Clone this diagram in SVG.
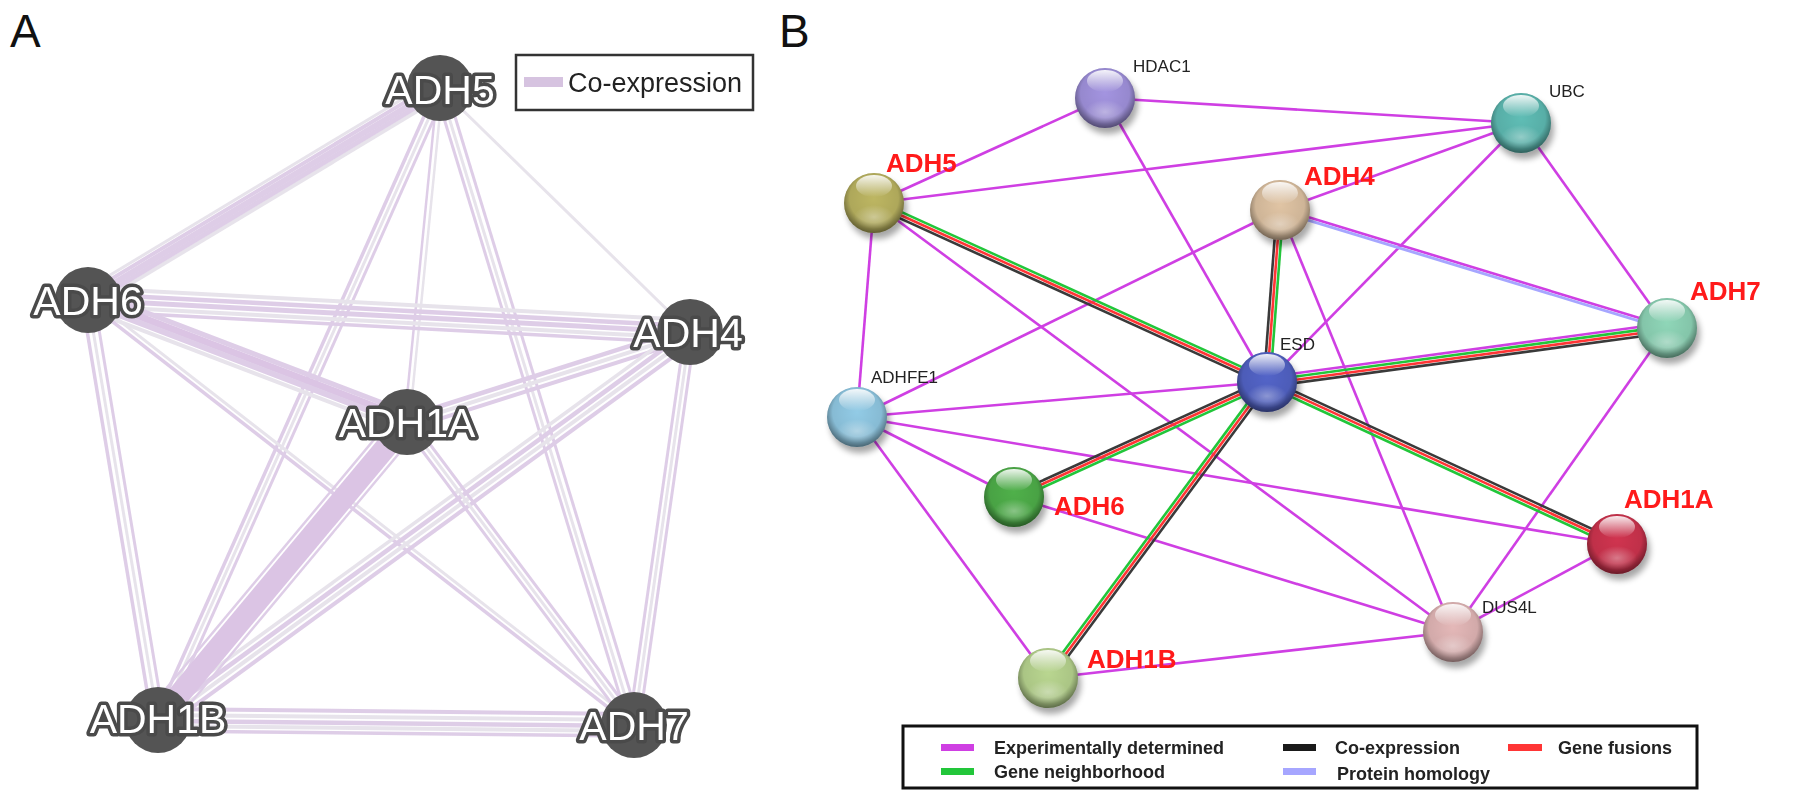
<svg xmlns="http://www.w3.org/2000/svg" width="1795" height="802" viewBox="0 0 1795 802">
<style>
.p{stroke:#d6c1e1;fill:none}
.g{stroke:#e1dce6;fill:none}
.d{stroke:#d2b6de;fill:none}
.an{fill:#545454}
.al{font-family:"Liberation Sans",Arial,sans-serif;font-size:41px;fill:#fff;stroke:#4a4a4a;stroke-width:7px;paint-order:stroke;stroke-linejoin:round;text-anchor:middle}
.pl{font-family:"Liberation Sans",Arial,sans-serif;font-size:46px;fill:#111}
.m{stroke:#cf3fe3;stroke-width:2.6;fill:none}
.cg{stroke:#22c63a;stroke-width:2.6;fill:none}
.cr{stroke:#ff3535;stroke-width:2.6;fill:none}
.ck{stroke:#3a3a3a;stroke-width:2.6;fill:none}
.cb{stroke:#a6a6ff;stroke-width:2.8;fill:none}
.rl{font-family:"Liberation Sans",Arial,sans-serif;font-size:26px;font-weight:bold;fill:#ff1a1a}
.sl{font-family:"Liberation Sans",Arial,sans-serif;font-size:17px;fill:#222}
.lg{font-family:"Liberation Sans",Arial,sans-serif;font-size:18px;font-weight:bold;fill:#222}
</style>
<defs>
<radialGradient id="shade" cx="0.5" cy="0.42" r="0.58">
<stop offset="0" stop-color="#000" stop-opacity="0"/>
<stop offset="0.7" stop-color="#000" stop-opacity="0.08"/>
<stop offset="1" stop-color="#000" stop-opacity="0.5"/>
</radialGradient>
<linearGradient id="hl" x1="0" y1="0" x2="0" y2="1">
<stop offset="0" stop-color="#fff" stop-opacity="0.9"/>
<stop offset="1" stop-color="#fff" stop-opacity="0"/>
</linearGradient>
<radialGradient id="glow" cx="0.5" cy="0.5" r="0.5">
<stop offset="0" stop-color="#fff" stop-opacity="0.35"/>
<stop offset="1" stop-color="#fff" stop-opacity="0"/>
</radialGradient>
<filter id="blur" x="-50%" y="-50%" width="200%" height="200%"><feGaussianBlur stdDeviation="3"/></filter>
</defs>
<rect width="1795" height="802" fill="#fff"/>

<text class="pl" x="10" y="47">A</text>
<text class="pl" x="779" y="47">B</text>

<!-- Panel A connectors -->
<g id="a-edges" opacity="0.8">
<g transform="translate(440,88) rotate(148.94)">
<line x2="410.9" y1="-8" y2="-8" class="g" stroke-width="4"/>
<line x2="410.9" y1="-4" y2="-4" class="p" stroke-width="5"/>
<line x2="410.9" y1="1" y2="1" class="p" stroke-width="6"/>
<line x2="410.9" y1="6" y2="6" class="p" stroke-width="4"/>
<line x2="410.9" y1="10" y2="10" class="g" stroke-width="3"/>
</g>
<g transform="translate(440,88) rotate(44.3)">
<line x2="349.3" class="g" stroke-width="3"/>
</g>
<g transform="translate(440,88) rotate(95.64)">
<line x2="335.6" y1="-2.5" y2="-2.5" class="g" stroke-width="2.5"/>
<line x2="335.6" y1="2.5" y2="2.5" class="p" stroke-width="2.5"/>
</g>
<g transform="translate(440,88) rotate(114.05)">
<line x2="692.1" y1="-7" y2="-7" class="p" stroke-width="3"/>
<line x2="692.1" y1="-2" y2="-2" class="g" stroke-width="3"/>
<line x2="692.1" y1="3" y2="3" class="p" stroke-width="3.5"/>
</g>
<g transform="translate(440,88) rotate(73.06)">
<line x2="665.9" y1="-6" y2="-6" class="p" stroke-width="3"/>
<line x2="665.9" y1="0" y2="0" class="g" stroke-width="3"/>
<line x2="665.9" y1="5" y2="5" class="p" stroke-width="3"/>
</g>
<g transform="translate(88,300) rotate(3.04)">
<line x2="602.8" y1="-12" y2="-12" class="g" stroke-width="4"/>
<line x2="602.8" y1="-6" y2="-6" class="p" stroke-width="4.5"/>
<line x2="602.8" y1="0" y2="0" class="p" stroke-width="5"/>
<line x2="602.8" y1="6" y2="6" class="g" stroke-width="4"/>
<line x2="602.8" y1="11" y2="11" class="p" stroke-width="3.5"/>
</g>
<g transform="translate(88,300) rotate(20.93)">
<line x2="341.5" y1="-9" y2="-9" class="p" stroke-width="5"/>
<line x2="341.5" y1="-3" y2="-3" class="d" stroke-width="7"/>
<line x2="341.5" y1="3" y2="3" class="p" stroke-width="6"/>
<line x2="341.5" y1="9" y2="9" class="g" stroke-width="4"/>
</g>
<g transform="translate(88,300) rotate(80.54)">
<line x2="425.8" y1="-6" y2="-6" class="p" stroke-width="3"/>
<line x2="425.8" y1="0" y2="0" class="g" stroke-width="3"/>
<line x2="425.8" y1="6" y2="6" class="p" stroke-width="3.5"/>
</g>
<g transform="translate(88,300) rotate(37.90)">
<line x2="691.9" y1="-3" y2="-3" class="g" stroke-width="3"/>
<line x2="691.9" y1="2" y2="2" class="p" stroke-width="3.5"/>
</g>
<g transform="translate(690,332) rotate(162.36)">
<line x2="297" y1="-7" y2="-7" class="p" stroke-width="4"/>
<line x2="297" y1="-1" y2="-1" class="g" stroke-width="4"/>
<line x2="297" y1="5" y2="5" class="p" stroke-width="4.5"/>
</g>
<g transform="translate(690,332) rotate(143.90)">
<line x2="658.5" y1="-10" y2="-10" class="p" stroke-width="4"/>
<line x2="658.5" y1="-4" y2="-4" class="g" stroke-width="4"/>
<line x2="658.5" y1="2" y2="2" class="p" stroke-width="4.5"/>
<line x2="658.5" y1="8" y2="8" class="g" stroke-width="3.5"/>
</g>
<g transform="translate(690,332) rotate(98.11)">
<line x2="397" y1="-5" y2="-5" class="p" stroke-width="3"/>
<line x2="397" y1="0" y2="0" class="g" stroke-width="3"/>
<line x2="397" y1="5" y2="5" class="p" stroke-width="3"/>
</g>
<g transform="translate(407,422) rotate(129.88)">
<line x2="388.3" y1="-14" y2="-14" class="p" stroke-width="2.5"/>
<line x2="388.3" y1="0" y2="0" class="d" stroke-width="22"/>
<line x2="388.3" y1="14" y2="14" class="p" stroke-width="2.5"/>
</g>
<g transform="translate(407,422) rotate(53.16)">
<line x2="378.6" y1="-5" y2="-5" class="p" stroke-width="3"/>
<line x2="378.6" y1="0" y2="0" class="g" stroke-width="3"/>
<line x2="378.6" y1="5" y2="5" class="p" stroke-width="3"/>
</g>
<g transform="translate(158,720) rotate(0.60)">
<line x2="476" y1="-11" y2="-11" class="p" stroke-width="4"/>
<line x2="476" y1="-5" y2="-5" class="g" stroke-width="4"/>
<line x2="476" y1="1" y2="1" class="p" stroke-width="4.5"/>
<line x2="476" y1="6" y2="6" class="g" stroke-width="4"/>
<line x2="476" y1="11" y2="11" class="p" stroke-width="3.5"/>
</g>
</g>

<!-- Panel A nodes -->
<g id="a-adh5"><circle cx="440" cy="88" r="33" class="an"/><text class="al" x="440" y="104">ADH5</text></g>
<g id="a-adh6"><circle cx="88" cy="300" r="33" class="an"/><text class="al" x="88" y="315">ADH6</text></g>
<g id="a-adh4"><circle cx="690" cy="332" r="33" class="an"/><text class="al" x="688" y="347">ADH4</text></g>
<g id="a-adh1a"><circle cx="407" cy="422" r="33" class="an"/><text class="al" x="407" y="437">ADH1A</text></g>
<g id="a-adh1b"><circle cx="158" cy="720" r="33" class="an"/><text class="al" x="158" y="733">ADH1B</text></g>
<g id="a-adh7"><circle cx="634" cy="725" r="33" class="an"/><text class="al" x="634" y="740">ADH7</text></g>

<!-- Panel A legend -->
<g id="a-legend">
<rect x="516" y="55" width="237" height="55" fill="#fff" stroke="#333" stroke-width="2.5"/>
<rect x="524" y="77" width="39" height="10" fill="#d6c3e0"/>
<text x="568" y="92" font-family="Liberation Sans, Arial, sans-serif" font-size="27" fill="#222">Co-expression</text>
</g>

<!-- Panel B connectors -->
<g id="b-edges">
<line class="m" x1="1105" y1="98" x2="874" y2="203"/>
<line class="m" x1="1105" y1="98" x2="1521" y2="123"/>
<line class="m" x1="1105" y1="98" x2="1267" y2="382"/>
<line class="m" x1="1521" y1="123" x2="874" y2="203"/>
<line class="m" x1="1521" y1="123" x2="1280" y2="210"/>
<line class="m" x1="1521" y1="123" x2="1267" y2="382"/>
<line class="m" x1="1521" y1="123" x2="1667" y2="328"/>
<line class="m" x1="874" y1="203" x2="857" y2="417"/>
<line class="m" x1="874" y1="203" x2="1453" y2="632"/>
<line class="m" x1="1280" y1="210" x2="857" y2="417"/>
<line class="m" x1="1280" y1="210" x2="1453" y2="632"/>
<line class="m" x1="1267" y1="382" x2="857" y2="417"/>
<line class="m" x1="857" y1="417" x2="1014" y2="497"/>
<line class="m" x1="857" y1="417" x2="1048" y2="678"/>
<line class="m" x1="857" y1="417" x2="1617" y2="544"/>
<line class="m" x1="1014" y1="497" x2="1453" y2="632"/>
<line class="m" x1="1048" y1="678" x2="1453" y2="632"/>
<line class="m" x1="1453" y1="632" x2="1617" y2="544"/>
<line class="m" x1="1453" y1="632" x2="1667" y2="328"/>
<g transform="translate(874,203) rotate(24.49)">
<line x2="431.8" y1="-3.2" y2="-3.2" class="cg"/>
<line x2="431.8" y1="0" y2="0" class="cr"/>
<line x2="431.8" y1="3.2" y2="3.2" class="ck"/>
</g>
<g transform="translate(1280,210) rotate(94.32)">
<line x2="172.5" y1="-3.2" y2="-3.2" class="cg"/>
<line x2="172.5" y1="0" y2="0" class="cr"/>
<line x2="172.5" y1="3.2" y2="3.2" class="ck"/>
</g>
<g transform="translate(1267,382) rotate(-7.69)">
<line x2="403.6" y1="-4.8" y2="-4.8" class="m"/>
<line x2="403.6" y1="-1.6" y2="-1.6" class="cg"/>
<line x2="403.6" y1="1.6" y2="1.6" class="cr"/>
<line x2="403.6" y1="4.8" y2="4.8" class="ck"/>
</g>
<g transform="translate(1014,497) rotate(-24.44)">
<line x2="277.9" y1="-3.2" y2="-3.2" class="ck"/>
<line x2="277.9" y1="0" y2="0" class="cr"/>
<line x2="277.9" y1="3.2" y2="3.2" class="cg"/>
</g>
<g transform="translate(1048,678) rotate(-53.50)">
<line x2="368.2" y1="-3.2" y2="-3.2" class="cg"/>
<line x2="368.2" y1="0" y2="0" class="cr"/>
<line x2="368.2" y1="3.2" y2="3.2" class="ck"/>
</g>
<g transform="translate(1267,382) rotate(24.84)">
<line x2="385.7" y1="-3.2" y2="-3.2" class="ck"/>
<line x2="385.7" y1="0" y2="0" class="cr"/>
<line x2="385.7" y1="3.2" y2="3.2" class="cg"/>
</g>
<g transform="translate(1280,210) rotate(16.96)">
<line x2="404.6" y1="-1.5" y2="-1.5" class="m"/>
<line x2="404.6" y1="1.5" y2="1.5" class="cb"/>
</g>
</g>

<!-- Panel B nodes -->
<g id="b-hdac1">
<circle cx="1108" cy="104" r="30" fill="#000" opacity="0.35" filter="url(#blur)"/>
<circle cx="1105" cy="98" r="30" fill="#a394e0"/>
<circle cx="1105" cy="98" r="30" fill="url(#shade)"/>
<ellipse cx="1105" cy="112" rx="20" ry="12" fill="url(#glow)"/>
<ellipse cx="1105" cy="81" rx="18" ry="11" fill="url(#hl)"/>
<text class="sl" x="1133" y="72">HDAC1</text>
</g>
<g id="b-ubc">
<circle cx="1524" cy="129" r="30" fill="#000" opacity="0.35" filter="url(#blur)"/>
<circle cx="1521" cy="123" r="30" fill="#5fbdb5"/>
<circle cx="1521" cy="123" r="30" fill="url(#shade)"/>
<ellipse cx="1521" cy="137" rx="20" ry="12" fill="url(#glow)"/>
<ellipse cx="1521" cy="106" rx="18" ry="11" fill="url(#hl)"/>
<text class="sl" x="1549" y="97">UBC</text>
</g>
<g id="b-adh5">
<circle cx="877" cy="209" r="30" fill="#000" opacity="0.35" filter="url(#blur)"/>
<circle cx="874" cy="203" r="30" fill="#bdb662"/>
<circle cx="874" cy="203" r="30" fill="url(#shade)"/>
<ellipse cx="874" cy="217" rx="20" ry="12" fill="url(#glow)"/>
<ellipse cx="874" cy="186" rx="18" ry="11" fill="url(#hl)"/>
<text class="rl" x="886" y="172">ADH5</text>
</g>
<g id="b-adh4">
<circle cx="1283" cy="216" r="30" fill="#000" opacity="0.35" filter="url(#blur)"/>
<circle cx="1280" cy="210" r="30" fill="#e0c4a4"/>
<circle cx="1280" cy="210" r="30" fill="url(#shade)"/>
<ellipse cx="1280" cy="224" rx="20" ry="12" fill="url(#glow)"/>
<ellipse cx="1280" cy="193" rx="18" ry="11" fill="url(#hl)"/>
<text class="rl" x="1304" y="185">ADH4</text>
</g>
<g id="b-adh7">
<circle cx="1670" cy="334" r="30" fill="#000" opacity="0.35" filter="url(#blur)"/>
<circle cx="1667" cy="328" r="30" fill="#8fd6b8"/>
<circle cx="1667" cy="328" r="30" fill="url(#shade)"/>
<ellipse cx="1667" cy="342" rx="20" ry="12" fill="url(#glow)"/>
<ellipse cx="1667" cy="311" rx="18" ry="11" fill="url(#hl)"/>
<text class="rl" x="1690" y="300">ADH7</text>
</g>
<g id="b-esd">
<circle cx="1270" cy="388" r="30" fill="#000" opacity="0.35" filter="url(#blur)"/>
<circle cx="1267" cy="382" r="30" fill="#5364c8"/>
<circle cx="1267" cy="382" r="30" fill="url(#shade)"/>
<ellipse cx="1267" cy="396" rx="20" ry="12" fill="url(#glow)"/>
<ellipse cx="1267" cy="365" rx="18" ry="11" fill="url(#hl)"/>
<text class="sl" x="1280" y="350">ESD</text>
</g>
<g id="b-adhfe1">
<circle cx="860" cy="423" r="30" fill="#000" opacity="0.35" filter="url(#blur)"/>
<circle cx="857" cy="417" r="30" fill="#92cbe6"/>
<circle cx="857" cy="417" r="30" fill="url(#shade)"/>
<ellipse cx="857" cy="431" rx="20" ry="12" fill="url(#glow)"/>
<ellipse cx="857" cy="400" rx="18" ry="11" fill="url(#hl)"/>
<text class="sl" x="871" y="383">ADHFE1</text>
</g>
<g id="b-adh6">
<circle cx="1017" cy="503" r="30" fill="#000" opacity="0.35" filter="url(#blur)"/>
<circle cx="1014" cy="497" r="30" fill="#4fb04a"/>
<circle cx="1014" cy="497" r="30" fill="url(#shade)"/>
<ellipse cx="1014" cy="511" rx="20" ry="12" fill="url(#glow)"/>
<ellipse cx="1014" cy="480" rx="18" ry="11" fill="url(#hl)"/>
<text class="rl" x="1054" y="515">ADH6</text>
</g>
<g id="b-adh1b">
<circle cx="1051" cy="684" r="30" fill="#000" opacity="0.35" filter="url(#blur)"/>
<circle cx="1048" cy="678" r="30" fill="#b9d690"/>
<circle cx="1048" cy="678" r="30" fill="url(#shade)"/>
<ellipse cx="1048" cy="692" rx="20" ry="12" fill="url(#glow)"/>
<ellipse cx="1048" cy="661" rx="18" ry="11" fill="url(#hl)"/>
<text class="rl" x="1087" y="668">ADH1B</text>
</g>
<g id="b-dus4l">
<circle cx="1456" cy="638" r="30" fill="#000" opacity="0.35" filter="url(#blur)"/>
<circle cx="1453" cy="632" r="30" fill="#e4b8b8"/>
<circle cx="1453" cy="632" r="30" fill="url(#shade)"/>
<ellipse cx="1453" cy="646" rx="20" ry="12" fill="url(#glow)"/>
<ellipse cx="1453" cy="615" rx="18" ry="11" fill="url(#hl)"/>
<text class="sl" x="1482" y="613">DUS4L</text>
</g>
<g id="b-adh1a">
<circle cx="1620" cy="550" r="30" fill="#000" opacity="0.35" filter="url(#blur)"/>
<circle cx="1617" cy="544" r="30" fill="#d0344f"/>
<circle cx="1617" cy="544" r="30" fill="url(#shade)"/>
<ellipse cx="1617" cy="558" rx="20" ry="12" fill="url(#glow)"/>
<ellipse cx="1617" cy="527" rx="18" ry="11" fill="url(#hl)"/>
<text class="rl" x="1624" y="508">ADH1A</text>
</g>

<!-- Panel B legend -->
<g id="b-legend">
<rect x="903" y="726" width="794" height="62" fill="#fff" stroke="#111" stroke-width="3"/>
<rect x="941" y="744" width="33" height="7" fill="#cf3fe3"/>
<rect x="941" y="768" width="33" height="7" fill="#22c63a"/>
<rect x="1283" y="744" width="33" height="7" fill="#1a1a1a"/>
<rect x="1283" y="768" width="33" height="7" fill="#a6a6ff"/>
<rect x="1508" y="744" width="34" height="7" fill="#ff3535"/>
<text class="lg" x="994" y="754">Experimentally determined</text>
<text class="lg" x="994" y="778">Gene neighborhood</text>
<text class="lg" x="1335" y="754">Co-expression</text>
<text class="lg" x="1337" y="780">Protein homology</text>
<text class="lg" x="1558" y="754">Gene fusions</text>
</g>
</svg>
